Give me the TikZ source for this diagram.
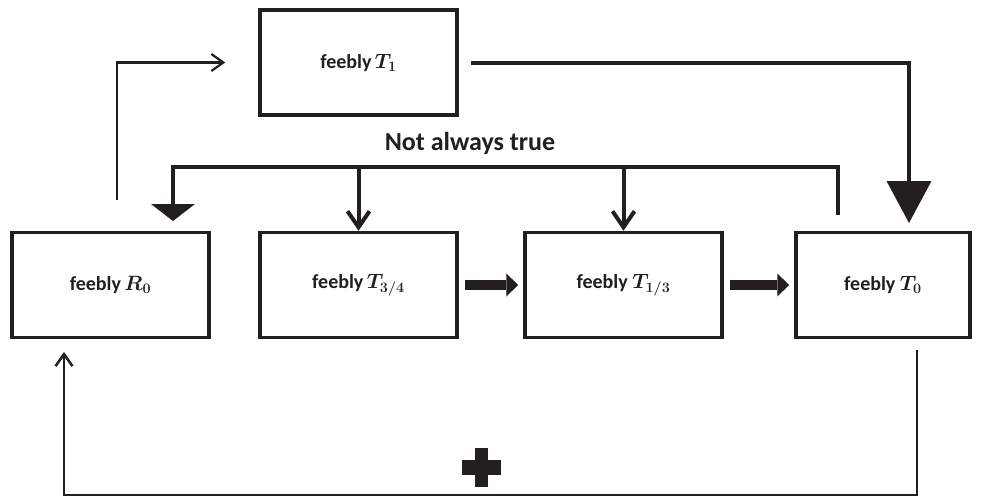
\documentclass[tikz,border=0pt]{standalone}
\usepackage{fontspec}
\setmainfont{Carlito}
\usepackage{bm}
\usetikzlibrary{arrows.meta}
\definecolor{ink}{HTML}{231F20}
\tikzset{
  box/.style={draw=ink, line width=3.5pt, minimum width=197pt, minimum height=105pt, inner sep=0pt,
    font=\fontsize{20}{24}\selectfont\bfseries\boldmath, text=ink},
  thinarrow/.style={draw=ink, line width=2.2pt, -{Straight Barb[length=12pt,width=17pt]}},
  thickarrow/.style={draw=ink, line width=4pt, -{Straight Barb[length=16pt,width=22pt]}},
  bigtip/.style={draw=ink, line width=4pt},
  blockarrow/.style={draw=ink, line width=10pt, -{Triangle[length=12pt,width=23pt,line width=0pt]}},
}
\begin{document}
\begin{tikzpicture}[x=1pt,y=-1pt]
\useasboundingbox[fill=white] (0,0) rectangle (984,498);
% boxes
\node[box] (t1)  at (358.5,62.5) {feebly\,$T_{1}$};
\node[box] (r0)  at (110.5,285)  {feebly\,$R_{0}$};
\node[box] (t34) at (358.5,285)  {feebly\,$T_{3/4}$};
\node[box] (t13) at (623.5,285)  {feebly $T_{1/3}$};
\node[box, minimum width=174pt] (t0) at (883,285) {feebly $T_{0}$};
% label
\node[font=\fontsize{26}{30}\selectfont\bfseries, text=ink] (nat) at (470,143) {Not always true};
% coordinates
\coordinate (rstart) at (117,200);
\coordinate (bus) at (838,215);
\coordinate (busy) at (0,167);
\coordinate (r0top) at (173,232);
\coordinate (t0top) at (909,232);
\coordinate (t0bot) at (917,338);
\coordinate (r0bot) at (64,338);
\coordinate (low) at (0,495);
% R0 -> T1
\draw[thinarrow, shorten >=33pt] (rstart) |- (t1.west);
% not always true bus
\draw[bigtip, -{Triangle[length=17pt,width=44pt,line width=0pt]}, shorten >=11pt, line join=miter]
  (bus) -- (bus |- busy) -| (r0top);
\draw[thickarrow] (t34.north |- busy) -- (t34.north);
\draw[thickarrow] (t13.north |- busy) -- (t13.north);
% T1 -> T0
\draw[bigtip, -{Triangle[length=42pt,width=45pt,line width=0pt]}, shorten <=12pt, shorten >=9pt, line join=miter]
  (t1.east) -| (t0top);
% block arrows
\draw[blockarrow, shorten <=6pt, shorten >=5pt] (t34.east) -- (t13.west);
\draw[blockarrow, shorten <=6pt, shorten >=5pt] (t13.east) -- (t0.west);
% feedback
\draw[thinarrow, line width=2.5pt, shorten <=12pt, shorten >=14pt, line join=miter]
  (t0bot) -- (t0bot |- low) -- (r0bot |- low) -- (r0bot);
% plus
\fill[ink] (475,448) rectangle (488,487);
\fill[ink] (462,460) rectangle (501,475);
\end{tikzpicture}
\end{document}
